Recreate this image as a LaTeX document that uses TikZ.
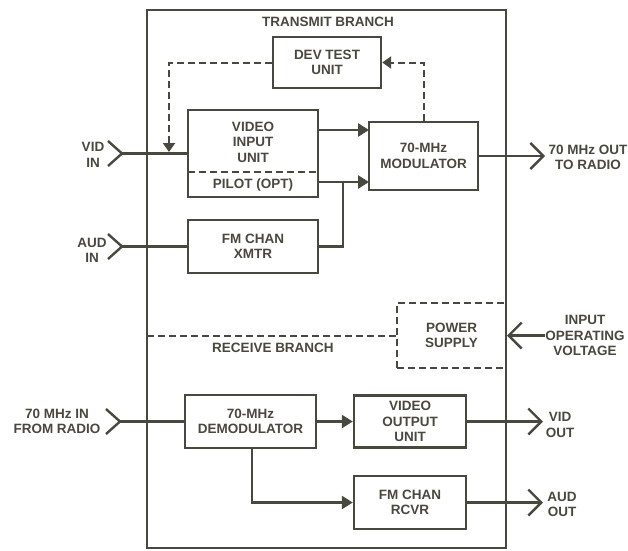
\documentclass[tikz,border=0pt]{standalone}
\usepackage{fontspec}
\setmainfont{Liberation Sans}
\usetikzlibrary{arrows.meta}
\definecolor{ink}{RGB}{72,72,62}
\tikzset{
  box/.style={draw=ink, line width=2.4pt, inner sep=0pt},
  wire/.style={draw=ink, line width=2.4pt},
  dwire/.style={draw=ink, line width=2pt, dash pattern=on 7pt off 4pt},
  fillarrow/.style={-{Triangle[length=11pt,width=13pt]}},
  smallarrow/.style={-{Triangle[length=9pt,width=12pt]}},
  barb/.style={-{Straight Barb[length=13pt,width=26pt]}},
  lbl/.style={text=ink, align=center, inner sep=0pt}
}
\begin{document}
\begin{tikzpicture}[x=1pt,y=-1pt,
  every node/.style={text=ink, align=center, font=\bfseries\fontsize{13.5}{15.5}\selectfont}]
\useasboundingbox (0,0) rectangle (628,550);

% outer frame
\draw[wire] (147,10) rectangle (506,548);

% labels of branches
\node[lbl] (tb) at (328,22) {TRANSMIT BRANCH};
\node[lbl] (rb) at (273,348) {RECEIVE BRANCH};

% transmit blocks
\node[box, minimum width=108pt, minimum height=51pt] (dev) at (327,62.5) {DEV TEST\\UNIT};
\node[box, minimum width=130pt, minimum height=87pt] (vin) at (253,153.5) {};
\node[lbl] (vintext) at (253,142) {VIDEO\\INPUT\\UNIT};
\node[lbl] (pilot) at (253,185) {PILOT (OPT)};
\coordinate (sepL) at (188,172);
\coordinate (sepR) at (318,172);
\draw[dwire] (sepL) -- (sepR);
\node[box, minimum width=109pt, minimum height=68pt] (mod) at (423.5,156) {70-MHz\\MODULATOR};
\node[box, minimum width=130pt, minimum height=53pt] (fmx) at (253,246.5) {FM CHAN\\XMTR};

% power supply
\node[draw=ink, line width=2pt, dash pattern=on 7pt off 4pt, minimum width=109pt, minimum height=65pt] (pwr) at (451.5,335.5) {POWER\\SUPPLY};

% receive blocks
\node[box, minimum width=131pt, minimum height=53pt] (demod) at (250.5,421.5) {70-MHz\\DEMODULATOR};
\node[box, minimum width=112pt, minimum height=52pt] (vout) at (410,421.5) {VIDEO\\OUTPUT\\UNIT};
\node[box, minimum width=112pt, minimum height=53pt] (fmr) at (410,502.5) {FM CHAN\\RCVR};

% outside labels
\node[lbl] (vidinl) at (93,155) {VID\\IN};
\node[lbl] (audinl) at (92,250.5) {AUD\\IN};
\node[lbl] (outl) at (588,157.5) {70 MHz OUT\\TO RADIO};
\node[lbl] (iovl) at (585,335.5) {INPUT\\OPERATING\\VOLTAGE};
\node[lbl] (rfinl) at (57,421.5) {70 MHz IN\\FROM RADIO};
\node[lbl] (voutl) at (560,425) {VID\\OUT};
\node[lbl] (aoutl) at (562,504.5) {AUD\\OUT};

% input chevrons and wires
\coordinate (vidin) at (122,153.5);
\draw[wire] (vidin) -- (vin.west);
\draw[wire] (vidin) ++(-14,-12.5) -- (vidin) -- ++(-14,12.5);
\coordinate (audin) at (122,246.5);
\draw[wire] (audin) -- (fmx.west);
\draw[wire] (audin) ++(-14,-12.5) -- (audin) -- ++(-14,12.5);
\coordinate (rfin) at (120,421.5);
\draw[wire] (rfin) -- (demod.west);
\draw[wire] (rfin) ++(-14,-12.5) -- (rfin) -- ++(-14,12.5);

% transmit connections
\coordinate (v1) at (318,130);
\coordinate (m1) at (369,130);
\draw[wire, fillarrow] (v1) -- (m1);
\coordinate (p1) at (318,182);
\coordinate (m2) at (369,182);
\draw[wire, fillarrow] (p1) -- (m2);
\coordinate (j) at (343,182);
\draw[wire] (fmx.east) -| (j);

% dashed test loop
\coordinate (dt) at (169,152);
\draw[dwire, smallarrow] (dev.west) -| (dt);
\draw[dwire, smallarrow] (mod.north) |- (dev.east);

% outputs
\coordinate (o1) at (545,156);
\draw[wire, barb] (mod.east) -- (o1);
\coordinate (o2) at (543,421.5);
\draw[wire, barb] (vout.east) -- (o2);
\coordinate (o3) at (543,502.5);
\draw[wire, barb] (fmr.east) -- (o3);

% power
\coordinate (rl) at (147,335.5);
\draw[dwire] (rl) -- (pwr.west);
\coordinate (iov) at (545,335.5);
\draw[wire, barb] (iov) -- (pwr.east);

% receive connections
\draw[wire, fillarrow] (demod.east) -- (vout.west);
\coordinate (dd) at (252,502.5);
\draw[wire, fillarrow] (dd |- demod.south) -- (dd) -- (fmr.west);
\end{tikzpicture}
\end{document}
